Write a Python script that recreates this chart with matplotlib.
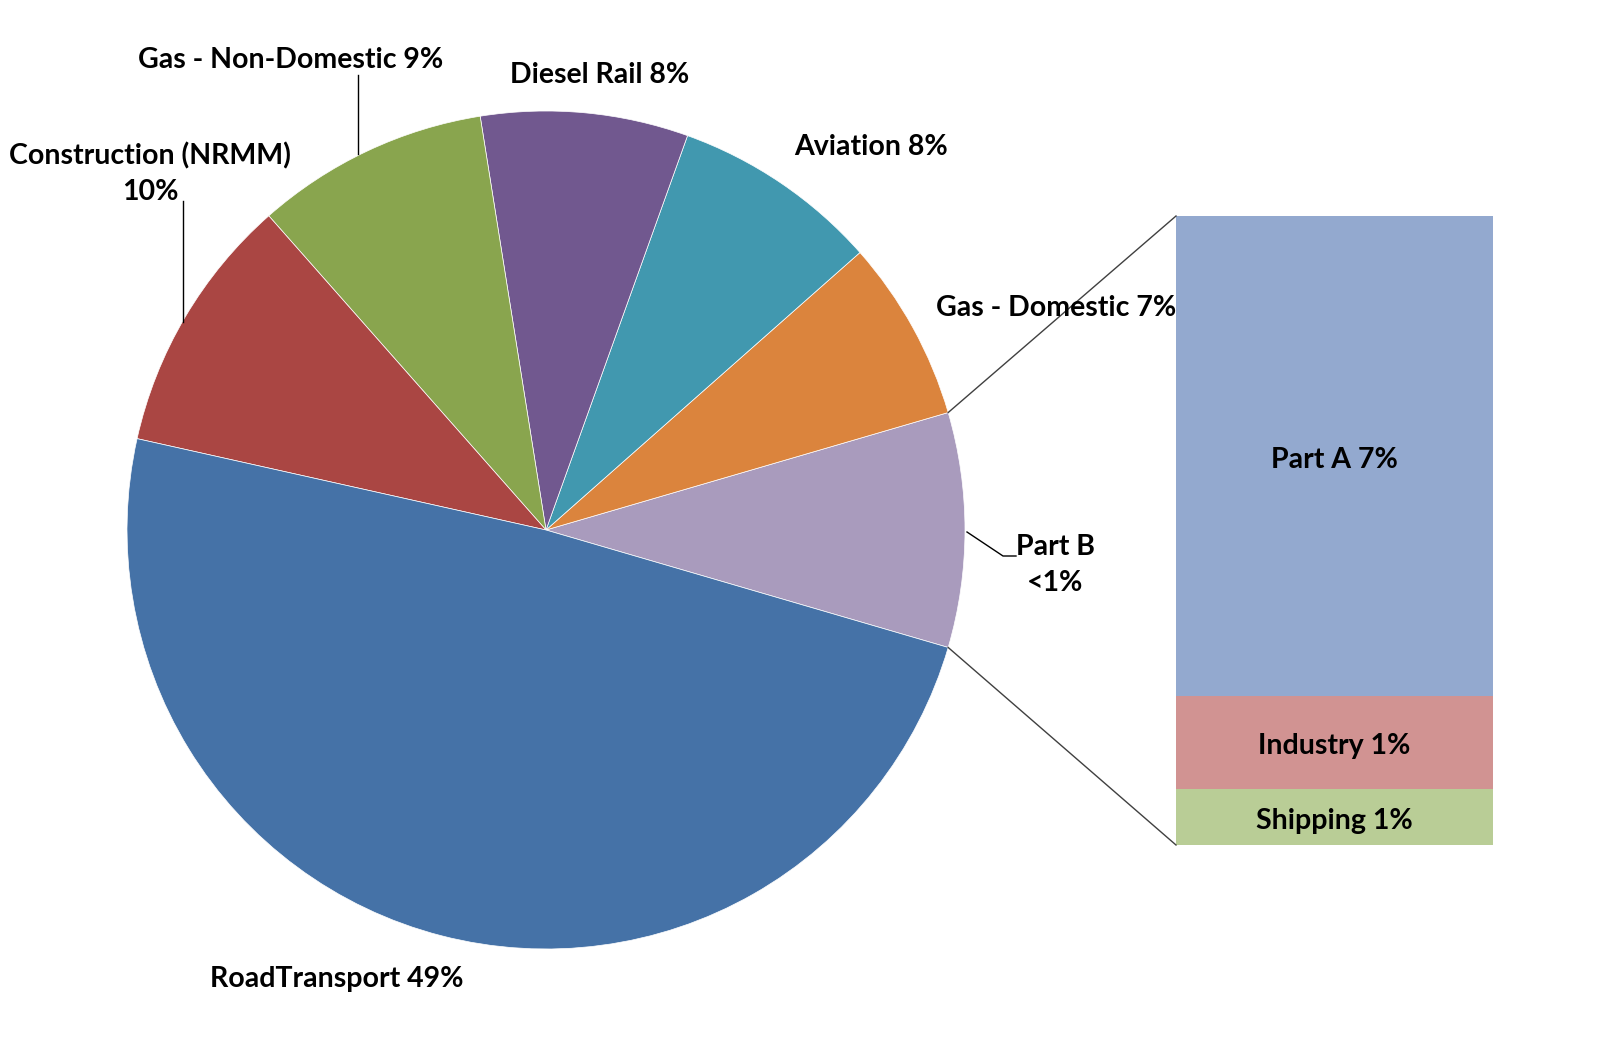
import matplotlib.pyplot as plt
import numpy as np

# main pie sectors (percent), counter-clockwise from the split-off slice
pie_labels = ['Gas - Domestic 7%', 'Aviation 8%', 'Diesel Rail 8%',
              'Gas - Non-Domestic 9%', 'Construction (NRMM)\n10%',
              'RoadTransport 49%']
pie_values = [7, 8, 8, 9, 10, 49]
pie_colors = ['#DB843D', '#4198AF', '#71588F', '#89A54E', '#AA4643', '#4572A7']

# split-off part (stacked bar), bottom to top
bar_labels = ['Shipping 1%', 'Industry 1%', 'Part A 7%']
bar_values = [0.8, 1.35, 6.9]
bar_colors = ['#B9CD96', '#D19392', '#93A9CF']
other_label = 'Part B\n<1%'
other_color = '#A99BBD'

W, H = 1614, 1056
fig = plt.figure(figsize=(W / 100, H / 100), dpi=100)
ax = fig.add_axes([0, 0, 1, 1])

font = dict(family=['Lato', 'DejaVu Sans'], fontweight='bold', fontsize=20.5, color='black')
dy = -3  # small nudge so labels sit like the original

cx, cy, r = 546, H - 530, 419
other = sum(bar_values)
vals = [other] + pie_values
cols = [other_color] + pie_colors
start = -other / sum(vals) * 180
wedges, _ = ax.pie(vals, colors=cols, startangle=start, counterclock=True,
                   center=(cx, cy), radius=r, frame=True,
                   wedgeprops=dict(linewidth=0.5, edgecolor='white'))
ax.set_xlim(0, W)
ax.set_ylim(0, H)
ax.set_aspect('equal')
ax.axis('off')

# stacked bar
bx0, bx1 = 1176, 1493
by_top, by_bot = H - 216, H - 845
scale = (by_top - by_bot) / other
bottom = by_bot
for lab, v, c in zip(bar_labels, bar_values, bar_colors):
    h = v * scale
    ax.bar(bx0, h, width=bx1 - bx0, bottom=bottom, align='edge', color=c)
    ax.text((bx0 + bx1) / 2, bottom + h / 2 + dy - 1, lab, ha='center', va='center', **font)
    bottom += h

# connector lines from split slice edges to bar corners
w0 = wedges[0]
for ang, ty in [(w0.theta2, by_top), (w0.theta1, by_bot)]:
    px = cx + r * np.cos(np.radians(ang))
    py = cy + r * np.sin(np.radians(ang))
    ax.plot([px, bx0], [py, ty], color='#404040', lw=1)

# data labels
label_pos = {
    'Gas - Domestic 7%': (1056, H - 305),
    'Aviation 8%': (871, H - 144),
    'Diesel Rail 8%': (600, H - 72),
    'Gas - Non-Domestic 9%': (291, H - 57),
    'Construction (NRMM)\n10%': (150, H - 171),
    'RoadTransport 49%': (337, H - 976),
}
for lab in pie_labels:
    x, y = label_pos[lab]
    ax.text(x, y + dy, lab, ha='center', va='center', linespacing=1.45, **font)
ax.text(1055, H - 562 + dy, other_label, ha='center', va='center', linespacing=1.45, **font)

# leader lines
ax.plot([358, 358], [H - 75, H - 154], color='black', lw=1)
ax.plot([183, 183], [H - 201, H - 322], color='black', lw=1)
ax.plot([967, 1003, 1016], [H - 532, H - 556, H - 556], color='black', lw=1)

fig.savefig('out.png', dpi=100)
